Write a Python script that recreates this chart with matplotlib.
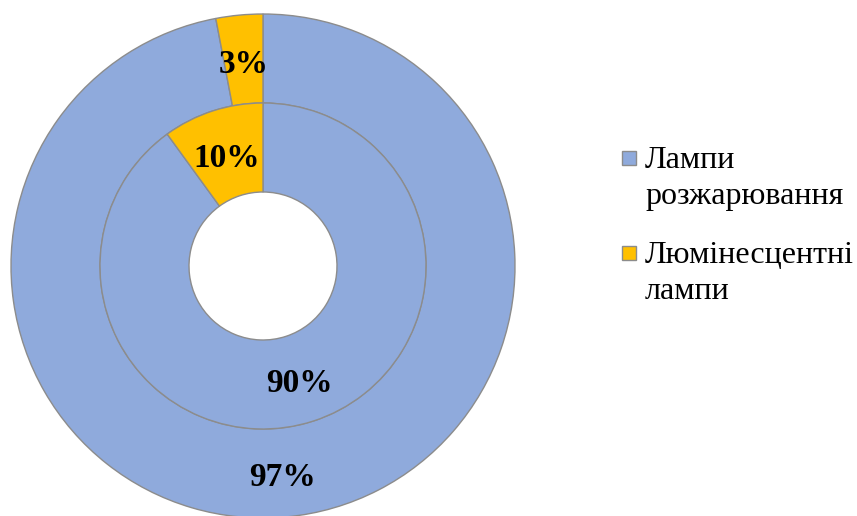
import matplotlib.pyplot as plt
from matplotlib.patches import Rectangle

# lamp types and their shares
labels = ["Лампи\nрозжарювання", "Люмінесцентні\nлампи"]
outer_vals = [97, 3]
inner_vals = [90, 10]
colors = ["#8FAADC", "#FFC000"]

fig = plt.figure(figsize=(8.57, 5.16), dpi=100)
ax = fig.add_axes([0, 0, 1, 1])

cx, cy = 263, 250
r_out, r_in, ring = 252, 163, 89
edge = dict(edgecolor="#8C8C8C", linewidth=1.0)
label_font = dict(family="Liberation Serif", weight="bold", size=24, color="black")

# outer ring
_, _, outer_txt = ax.pie(outer_vals, colors=colors, radius=r_out, center=(cx, cy),
                         startangle=90, counterclock=False,
                         wedgeprops=dict(width=ring, **edge),
                         autopct="%d%%", pctdistance=(r_out - ring / 2) / r_out,
                         textprops=label_font, frame=True)

# inner ring
_, _, inner_txt = ax.pie(inner_vals, colors=colors, radius=r_in, center=(cx, cy),
                         startangle=90, counterclock=False,
                         wedgeprops=dict(width=ring, **edge),
                         autopct="%d%%", pctdistance=(r_in - ring / 2) / r_in,
                         textprops=label_font, frame=True)

# nudge the percent labels down a little
for t in outer_txt + inner_txt:
    x, y = t.get_position()
    t.set_position((x, y - 5))

ax.set_xlim(0, 857)
ax.set_ylim(0, 516)
ax.set_aspect("equal")
ax.axis("off")

# legend on the right
for i, (lab, col) in enumerate(zip(labels, colors)):
    top = 516 - 150 - i * 95
    ax.add_patch(Rectangle((622, top - 15), 14, 14, facecolor=col,
                           edgecolor="#8C8C8C", linewidth=1.0))
    ax.text(645, top + 4, lab, family="Liberation Serif", size=23,
            va="top", ha="left", linespacing=1.3)

fig.savefig("out.png", dpi=100)
